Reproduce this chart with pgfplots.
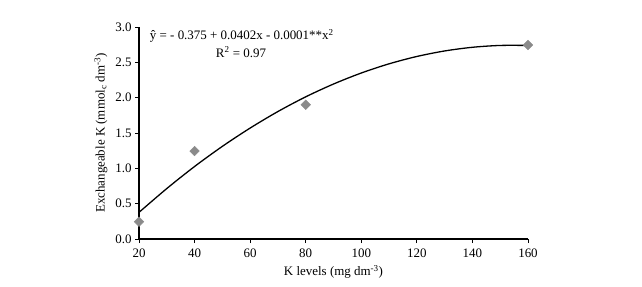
\documentclass[border=0pt]{standalone}
\usepackage{fontspec}
\setmainfont{Liberation Serif}
\usepackage{pgfplots}
\pgfplotsset{compat=1.18}
\definecolor{markgray}{HTML}{8A8A8A}
\begin{document}
\begin{tikzpicture}
\path[use as bounding box] (0,0) rectangle (642bp,287bp);
\begin{axis}[
  at={(139bp,48bp)}, anchor=south west,
  scale only axis, width=389bp, height=212bp,
  xmin=20, xmax=160, ymin=0, ymax=3,
  axis x line*=bottom, axis y line*=left,
  axis line style={line width=1.1pt},
  tick align=outside, major tick length=4bp,
  tick style={line width=1pt, black},
  xtick={20,40,60,80,100,120,140,160},
  ytick={0,0.5,1,1.5,2,2.5,3},
  yticklabel style={/pgf/number format/.cd, fixed, fixed zerofill, precision=1},
  /pgf/number format/assume math mode=true,
  font=\fontsize{13}{15}\selectfont,
  xticklabel style={yshift=-2bp},
  xlabel={K levels (mg dm\textsuperscript{-3})},
  ylabel={Exchangeable K (mmol\textsubscript{c} dm\textsuperscript{-3})},
  xlabel style={at={(axis description cs:0.5,-0.156)}, anchor=center},
  ylabel style={at={(axis description cs:-0.098,0.5)}, anchor=center},
  clip=false,
]
\addplot[black, line width=1.3pt, smooth, no markers] coordinates {
 (20,0.377) (30,0.714) (40,1.026) (50,1.311) (60,1.570) (70,1.804)
 (80,2.012) (90,2.193) (100,2.349) (110,2.479) (120,2.583) (130,2.661)
 (140,2.713) (150,2.739) (160,2.739)};
\addplot[only marks, mark=square*, mark size=3.4bp,
  mark options={rotate=45, fill=markgray, draw=markgray}] coordinates {
 (20,0.245) (40,1.245) (80,1.90) (160,2.745)};
\node[anchor=center] at (axis cs:57,2.87) {ŷ = - 0.375 + 0.0402x - 0.0001**x\textsuperscript{2}};
\node[anchor=center] at (axis cs:56.7,2.645) {R\textsuperscript{2} = 0.97};
\end{axis}
\end{tikzpicture}
\end{document}
